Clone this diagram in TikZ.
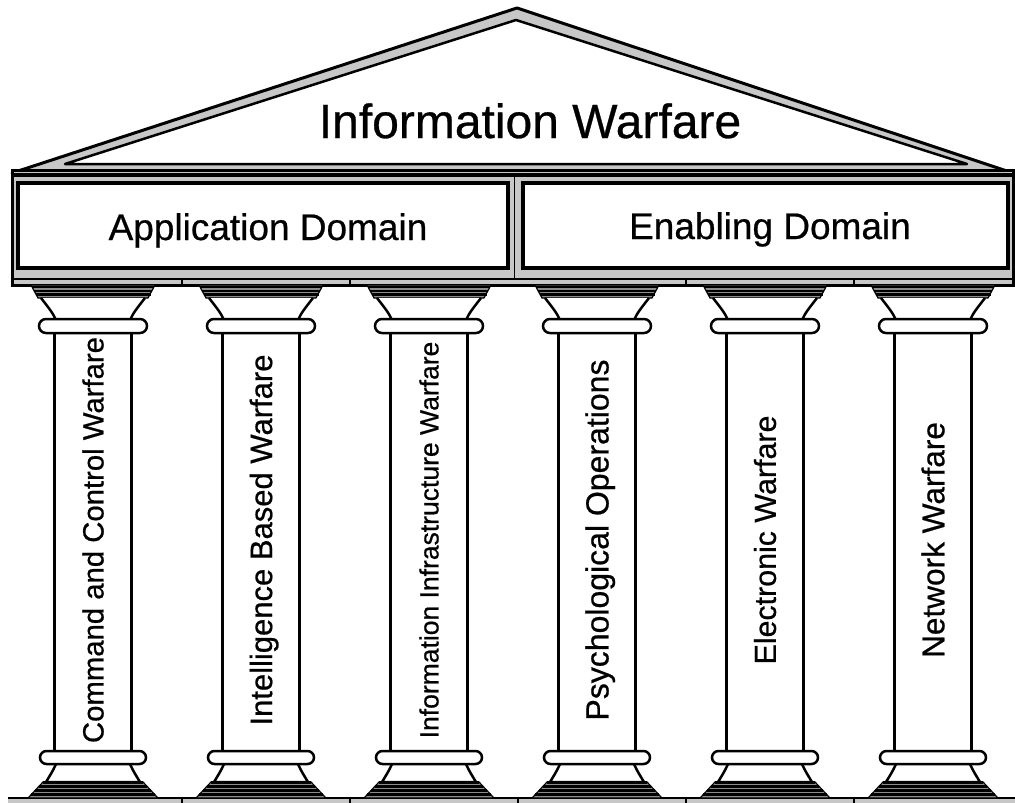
\documentclass[tikz,border=0pt]{standalone}
\usepackage{fontspec}
\setmainfont{Liberation Sans}[FakeBold=0.6]
\usetikzlibrary{calc}
\tikzset{
  band/.style={fill=black!22},
  coltext/.style={rotate=90, anchor=base, inner sep=0pt},
  domtext/.style={anchor=base, inner sep=0pt, font=\fontsize{37}{44}\selectfont}
}
% one column: (x centre : font size)[name]{label}
\def\pillar(#1:#2)[#3]#4{%
  \begin{scope}[shift={(#1,0)}]
    % abacus
    \draw[fill=black!45, line width=1.2] (-62,285) -- (62,285) -- (55,298) -- (-55,298) -- cycle;
    \draw[line width=2.2] (-61,287) -- (61,287);
    \draw[line width=2.2] (-59,291) -- (59,291);
    \draw[line width=2.2] (-57.5,294.5) -- (57.5,294.5);
    % echinus
    \draw[fill=white, line width=2.5] (-52,298) .. controls (-45,307) and (-40,313) .. (-37,320)
      -- (37,320) .. controls (40,313) and (45,307) .. (52,298);
    % shaft
    \draw[fill=white, line width=3.5] (-38.5,330) rectangle (38.5,753);
    \draw[fill=white, line width=2.5, rounded corners=7] (-54,319) rectangle (54,333);
    % base
    \draw[fill=black!45, line width=1.2] (-50,782) -- (50,782) -- (65,798) -- (-65,798) -- cycle;
    \draw[line width=2.2] (-50,782.5) -- (50,782.5);
    \draw[line width=2.2] (-54,786.5) -- (54,786.5);
    \draw[line width=2.2] (-58,790.5) -- (58,790.5);
    \draw[line width=2.2] (-62,794.5) -- (62,794.5);
    \draw[fill=white, line width=2.5] (-37,764) .. controls (-40,771) and (-44,777) .. (-47,782)
      -- (47,782) .. controls (44,777) and (40,771) .. (37,764);
    \draw[fill=white, line width=2.5, rounded corners=6.5] (-53,751) rectangle (53,764);
    \node[coltext, font=\fontsize{#2}{#2}\selectfont] (#3) at ({0.358*#2},540) {#4};
  \end{scope}}

\begin{document}
\begin{tikzpicture}[x=1pt, y=-1pt]
  \useasboundingbox (0,0) rectangle (1015,803);

  %%%%% ROOF %%%%%
  \draw[band, line width=3, line join=round] (12,173) -- (517,8) -- (1013,173) -- cycle;
  \draw[fill=white, line width=2.5, line join=round] (65,164) -- (516,20) -- (967,164) -- cycle;
  \node[anchor=base, inner sep=0pt, font=\fontsize{48}{56}\selectfont] (iw) at (530,138) {Information Warfare};

  %%%%% BEAM %%%%%
  \draw[band, line width=3] (12,170) rectangle (1013,285);
  \draw[line width=4] (12,175) -- (1013,175);
  \draw[line width=2.5] (12,279) -- (1013,279);
  \draw[line width=1] (514,177) -- (514,279);
  \draw[fill=white, line width=4] (18,183) rectangle (508,268);
  \draw[fill=white, line width=4] (523,183) rectangle (1008,268);
  \draw[line width=1.5] (182,279) -- (182,285);
  \draw[line width=1.5] (350,279) -- (350,285);
  \draw[line width=1.5] (686,279) -- (686,285);
  \draw[line width=1.5] (854,279) -- (854,285);
  \node[domtext] (app) at (268,240) {Application Domain};
  \node[domtext] (ena) at (770,239) {Enabling Domain};

  %%%%% GROUND %%%%%
  \draw[band, draw=none] (8,798) rectangle (1015,803);
  \draw[line width=2] (8,798) -- (1015,798);
  \draw[line width=1.5] (182,798) -- (182,803);
  \draw[line width=1.5] (350,798) -- (350,803);
  \draw[line width=1.5] (518,798) -- (518,803);
  \draw[line width=1.5] (686,798) -- (686,803);
  \draw[line width=1.5] (854,798) -- (854,803);

  %%%%% COLUMNS %%%%%
  \pillar(93:29.3)[c2w]{Command and Control Warfare}
  \pillar(261:31)[ibw]{Intelligence Based Warfare}
  \pillar(429:26.5)[iiw]{Information Infrastructure Warfare}
  \pillar(597:32)[psy]{Psychological Operations}
  \pillar(765:30.4)[ew]{Electronic Warfare}
  \pillar(933:31.6)[nw]{Network Warfare}
\end{tikzpicture}
\end{document}
